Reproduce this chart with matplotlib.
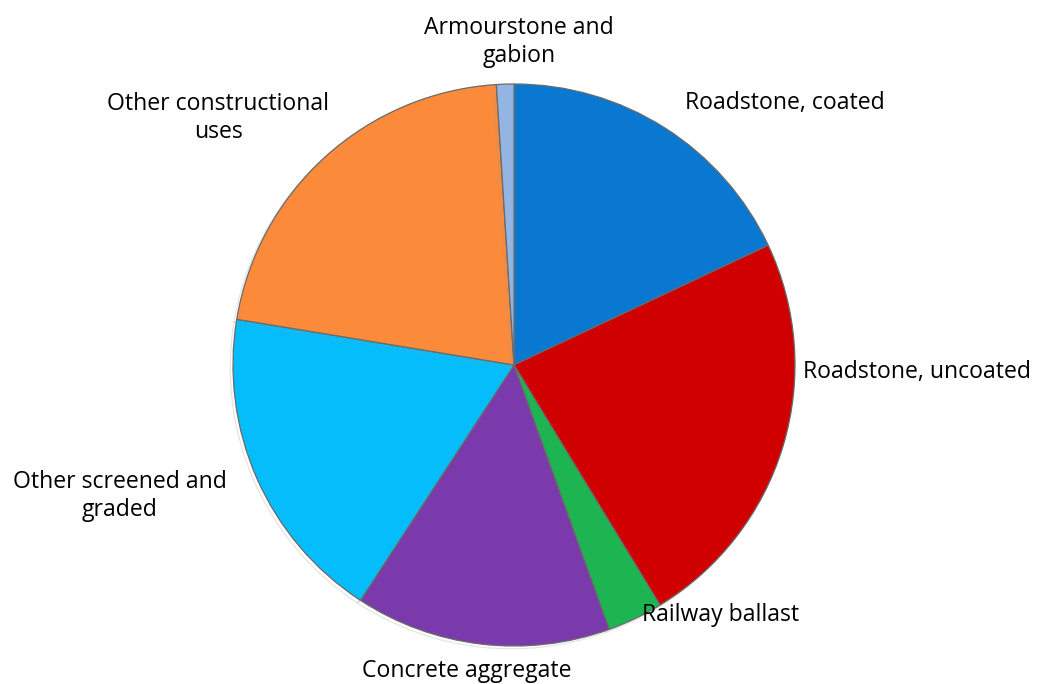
import matplotlib
matplotlib.use("Agg")
import matplotlib.pyplot as plt
import matplotlib.patheffects as pe

categories = ["Roadstone, coated", "Roadstone, uncoated", "Railway ballast",
              "Concrete aggregate", "Other screened and\ngraded",
              "Other constructional\nuses", "Armourstone and\ngabion"]
values = [18.0, 23.3, 3.2, 14.7, 18.4, 21.4, 1.0]
colors = ["#0a78d0", "#d00000", "#1db551", "#7a3aac", "#04bdfa", "#fb8a3a", "#94b4e2"]

W, H = 1045, 684
fig = plt.figure(figsize=(W / 100, H / 100), dpi=100)
ax = fig.add_axes([0, 0, 1, 1])

cx, cy, r = 514, H - 365, 281
wedges, _ = ax.pie(values, colors=colors, startangle=90, counterclock=False,
                   center=(cx, cy), radius=r, frame=True,
                   wedgeprops=dict(edgecolor="#6a6a6a", linewidth=0.9))
for w in wedges:
    w.set_path_effects([pe.SimpleLineShadow(offset=(-2, -2), shadow_color="#999999", alpha=0.25),
                        pe.Normal()])
ax.set_xlim(0, W)
ax.set_ylim(0, H)
ax.set_aspect("equal")
ax.axis("off")

font = "Open Sans"
fs = 16.6
label_pos = [(785, 103), (917, 372), (721, 615), (467, 671), (120, 496),
             (218, 118), (519, 42)]
for name, (x, y) in zip(categories, label_pos):
    ax.text(x, H - y, name, ha="center", va="center", fontsize=fs, family=font,
            multialignment="center", linespacing=1.2)

fig.savefig("out.png", dpi=100)
